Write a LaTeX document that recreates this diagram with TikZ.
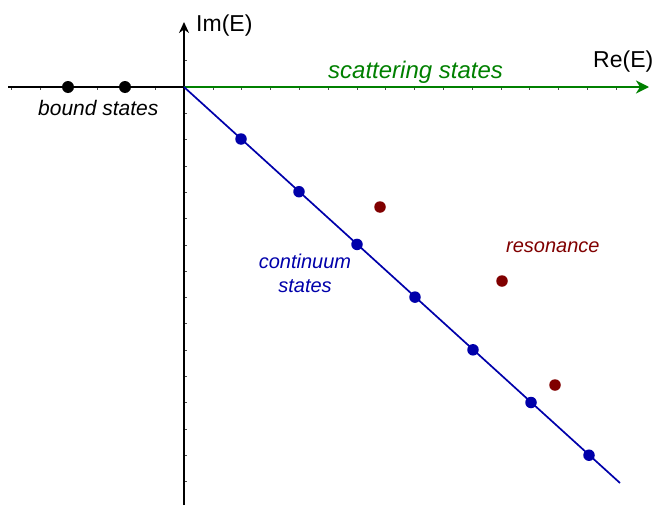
\documentclass[tikz,border=0pt]{standalone}
\usepackage{fontspec}
\setmainfont{Liberation Sans}
\usetikzlibrary{arrows.meta}
\definecolor{scatgreen}{RGB}{0,128,0}
\definecolor{contblue}{RGB}{0,0,170}
\definecolor{resred}{RGB}{128,0,0}
\begin{document}
\begin{tikzpicture}[x=1pt,y=-1pt,
  dot/.style={circle,fill=#1,inner sep=0pt,minimum size=11.5pt},
  lbl/.style={anchor=base west,inner sep=0pt,font=\fontsize{#1}{#1}\selectfont},
  tick/.style={line width=0.6pt,black!70}]
\useasboundingbox (0,0) rectangle (658,506);
% axes
\coordinate (O) at (184,87);
\coordinate (xl) at (8,87);
\coordinate (xr) at (649,87);
\coordinate (yt) at (184,22);
\coordinate (yb) at (184,505);
\coordinate (bl) at (620,483);
% ticks
\foreach \i in {1,...,15} \draw[tick] (184,{87+26.3*\i}) -- ++(2.5,0);
\draw[tick] (184,60) -- ++(2.5,0);
\foreach \i in {-6,...,-1} \draw[tick] ({184+28.8*\i},87) -- ++(0,2.5);
\foreach \i in {1,...,15} \draw[tick] ({184+28.8*\i},87) -- ++(0,2.5);
\draw[line width=2pt] (xl) -- (O);
\draw[line width=2pt,-{Stealth[length=11pt,width=10pt]}] (yb) -- (yt);
\draw[scatgreen,line width=2.8pt,-{Stealth[length=13pt,width=13pt,inset=4pt]}] (O) -- (xr);
\draw[contblue,line width=1.7pt] (O) -- (bl);
% labels
\node[lbl=23] (im) at (196,31) {Im(E)};
\node[lbl=23] (re) at (593,67) {Re(E)};
\node[lbl=24,text=scatgreen] (scat) at (328,78) {\itshape scattering states};
\node[lbl=21] (bound) at (38,115) {\itshape bound states};
\node[text=contblue,align=center,inner sep=0pt,font=\fontsize{20}{24}\selectfont\itshape,anchor=base] (cont) at (305,292) {continuum\\states};
\node[lbl=20,text=resred] (res) at (506,252) {\itshape resonance};
% bound states
\node[dot=black,minimum size=12pt] (b1) at (68,87) {};
\node[dot=black,minimum size=12pt] (b2) at (125,87) {};
% continuum states
\foreach \k [count=\n] in {0,...,6}
  \node[dot=contblue] (c\n) at ({241+58*\k},{139+52.7*\k}) {};
% resonances
\node[dot=resred] (r1) at (380,207) {};
\node[dot=resred] (r2) at (502,281) {};
\node[dot=resred] (r3) at (555,385) {};
\end{tikzpicture}
\end{document}
